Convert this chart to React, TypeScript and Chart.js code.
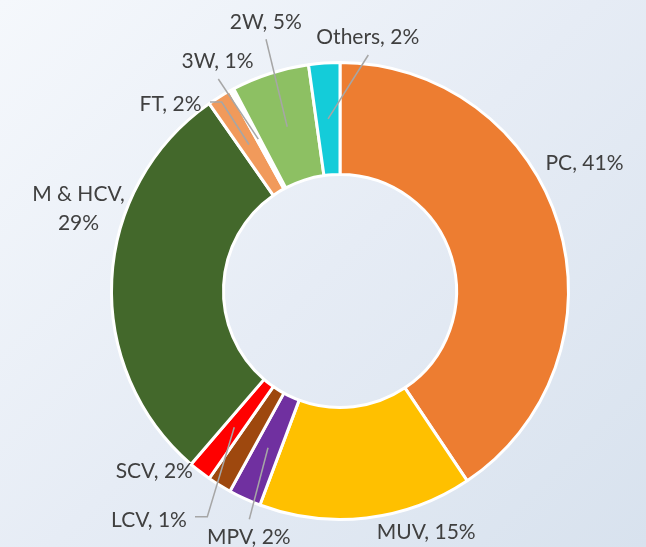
import React, { useEffect, useRef } from "react";
import { Chart, registerables } from "chart.js";

Chart.register(...registerables);

// Categories in clockwise order starting at 12 o'clock
const categories = ["PC", "MUV", "MPV", "SCV", "LCV", "M & HCV", "FT", "3W", "2W", "Others"];
// Share of each segment (%), as measured from the ring
const shares = [40.6, 15.1, 2.3, 1.7, 1.6, 29.0, 1.7, 0.3, 5.5, 2.2];
// Percent text printed on each label
const shareLabels = ["41%", "15%", "2%", "2%", "1%", "29%", "2%", "1%", "5%", "2%"];
const colors = [
  "#ED7D31",
  "#FFC000",
  "#7030A0",
  "#9E480E",
  "#FF0000",
  "#43682B",
  "#F19A5B",
  "#FFFFFF",
  "#8DC063",
  "#14CCD9",
];

// Label placement (offsets from the ring centre; dy = text baseline)
type Layout = { dx: number; dy: number; wrap?: boolean; lead?: number[][] };
const labelLayout: Record<string, Layout> = {
  PC: { dx: 244.5, dy: -121 },
  MUV: { dx: 86.2, dy: 248.3 },
  MPV: { dx: -91.2, dy: 253, lead: [[-90.7, 228.3]] },
  SCV: { dx: -185.7, dy: 187 },
  LCV: { dx: -191, dy: 235.5, lead: [[-145, 225.7], [-132.7, 225.7]] },
  "M & HCV": { dx: -261.5, dy: -90, wrap: true },
  FT: { dx: -169.5, dy: -180, lead: [[-130, -189], [-118.3, -189]] },
  "3W": { dx: -122.5, dy: -222.7, lead: [[-121.7, -212]] },
  "2W": { dx: -74.2, dy: -261.7, lead: [[-74, -251.7]] },
  Others: { dx: 27.8, dy: -246.7, lead: [[28.3, -236]] },
};

const FONT = "21px Lato";
const TEXT_COLOR = "#404040";
const LEAD_COLOR = "#A6A6A6";

const labelPlugin = {
  id: "sliceLabels",
  afterDatasetsDraw(chart: any) {
    const ctx: CanvasRenderingContext2D = chart.ctx;
    const meta = chart.getDatasetMeta(0);
    ctx.save();
    meta.data.forEach((arc: any, i: number) => {
      const p = arc.getProps(["x", "y", "startAngle", "endAngle", "innerRadius", "outerRadius"], true);
      const lay = labelLayout[categories[i]];
      if (!lay) return;
      if (lay.lead) {
        const mid = (p.startAngle + p.endAngle) / 2;
        const r = (p.innerRadius + p.outerRadius) / 2;
        ctx.beginPath();
        ctx.strokeStyle = LEAD_COLOR;
        ctx.lineWidth = 1.5;
        ctx.lineJoin = "miter";
        lay.lead.forEach((pt, k) => {
          if (k === 0) ctx.moveTo(p.x + pt[0], p.y + pt[1]);
          else ctx.lineTo(p.x + pt[0], p.y + pt[1]);
        });
        ctx.lineTo(p.x + Math.cos(mid) * r, p.y + Math.sin(mid) * r);
        ctx.stroke();
      }
    });
    ctx.font = FONT;
    ctx.fillStyle = TEXT_COLOR;
    ctx.textAlign = "center";
    ctx.textBaseline = "alphabetic";
    meta.data.forEach((arc: any, i: number) => {
      const p = arc.getProps(["x", "y"], true);
      const lay = labelLayout[categories[i]];
      if (!lay) return;
      if (lay.wrap) {
        ctx.fillText(categories[i] + ",", p.x + lay.dx, p.y + lay.dy);
        ctx.fillText(shareLabels[i], p.x + lay.dx, p.y + lay.dy + 29);
      } else {
        ctx.fillText(categories[i] + ", " + shareLabels[i], p.x + lay.dx, p.y + lay.dy);
      }
    });
    ctx.restore();
  },
};

export default function App() {
  const ref = useRef<HTMLCanvasElement | null>(null);
  useEffect(() => {
    document.body.style.margin = "0";
    if (!ref.current) return;
    const chart = new Chart(ref.current, {
      type: "doughnut",
      data: {
        labels: categories,
        datasets: [
          {
            data: shares,
            backgroundColor: colors,
            borderColor: "#FFFFFF",
            borderWidth: 3,
          },
        ],
      },
      options: {
        responsive: false,
        animation: false,
        radius: 228.5,
        cutout: "51%",
        events: [],
        layout: { padding: { left: 110, right: 76, top: 60, bottom: 25 } },
        plugins: {
          legend: { display: false },
          tooltip: { enabled: false },
        },
      } as any,
      plugins: [labelPlugin],
    });
    return () => chart.destroy();
  }, []);
  return (
    <div
      style={{
        position: "absolute",
        left: 0,
        top: 0,
        width: 646,
        height: 547,
        overflow: "hidden",
        background: "linear-gradient(135deg, #F5F8FC 0%, #E6ECF5 50%, #D8E2EE 100%)",
      }}
    >
      <canvas ref={ref} width={646} height={547} style={{ display: "block", width: 646, height: 547 }} />
    </div>
  );
}
